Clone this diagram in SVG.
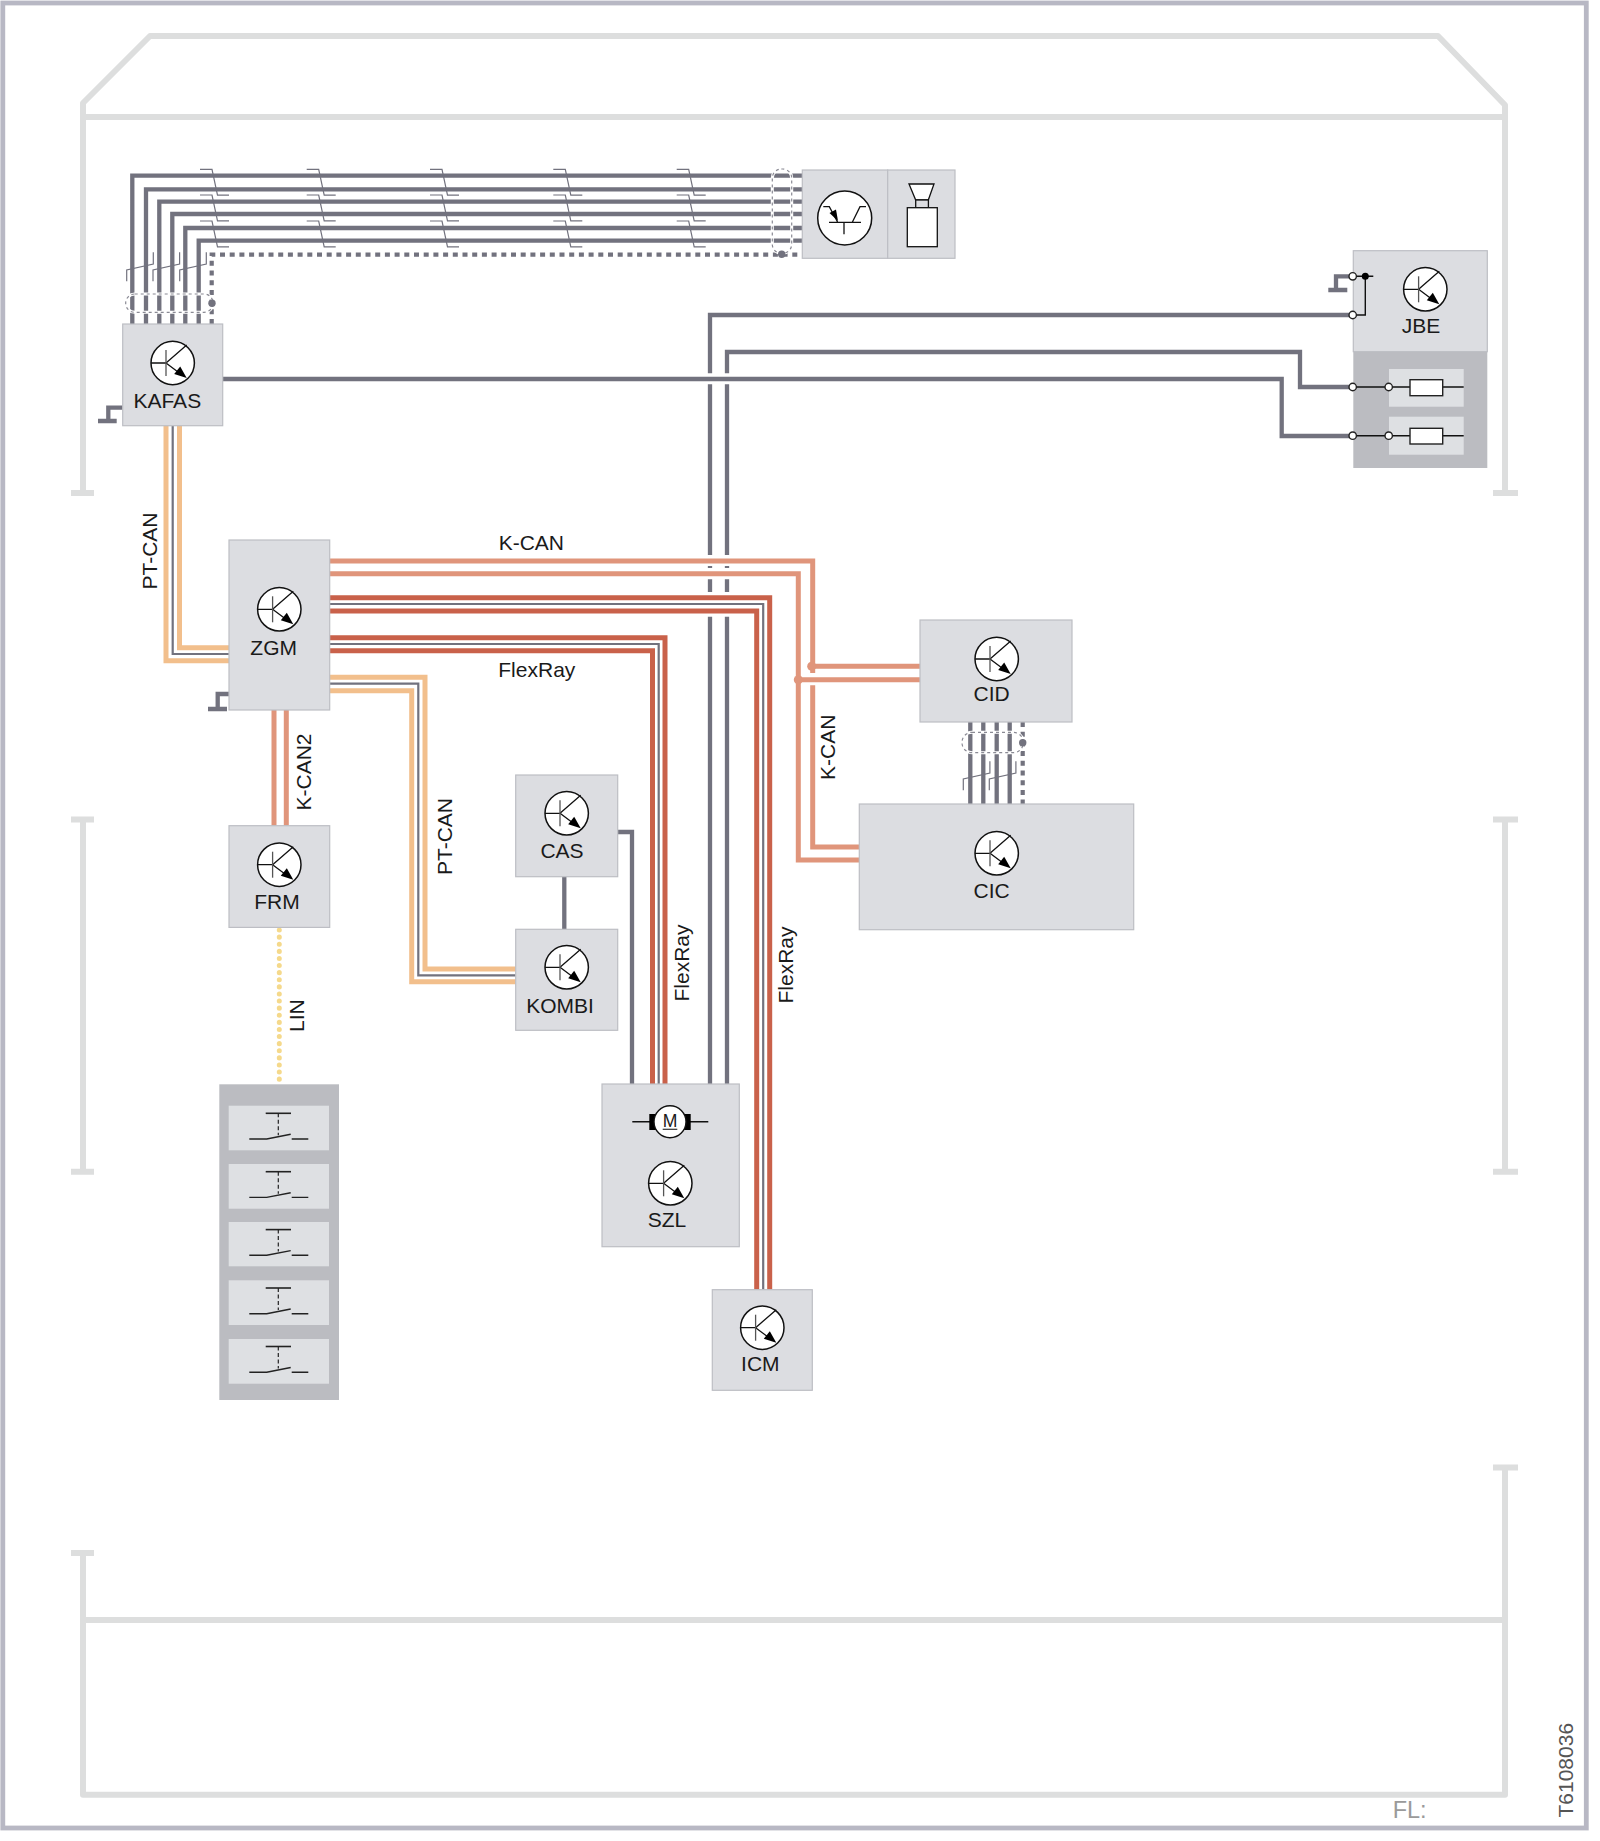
<svg xmlns="http://www.w3.org/2000/svg" width="1600" height="1841" viewBox="0 0 1600 1841">
<style>
text{font-family:"Liberation Sans",Arial,sans-serif;font-size:21px;fill:#1a1a1a}
.box{fill:#dcdde1;stroke:#bdbec4;stroke-width:1.2}
.dark{fill:#bbbcc1;stroke:none}
.sub{fill:#dee0e3;stroke:none}
.frame{fill:none;stroke:#dddede;stroke-width:6;stroke-linejoin:round}
.g{fill:none;stroke:#72727e;stroke-width:4.3}
.gt{fill:none;stroke:#72727e;stroke-width:2.2}
.gd{fill:none;stroke:#72727e;stroke-width:4.2;stroke-dasharray:5 4.7}
.k{fill:none;stroke:#e0957b;stroke-width:5}
.f{fill:none;stroke:#c9614a;stroke-width:5}
.p{fill:none;stroke:#f2bf8c;stroke-width:5}
.shw{fill:none;stroke:#fff;stroke-width:3}
.shd{fill:none;stroke:#8a8a94;stroke-width:1.2;stroke-dasharray:3 3}
.b{fill:none;stroke:#111;stroke-width:1.4}
.o{fill:#fff;stroke:#222;stroke-width:1.4}
</style>
<defs>
<g id="npn">
<circle r="21.7" fill="#fff" stroke="#111" stroke-width="1.5"/>
<path d="M-21.7 0H-6.7M-6.7 0L14 -18M-6.7 0L8 11" fill="none" stroke="#111" stroke-width="1.3"/>
<path d="M-6.7 -13V13" fill="none" stroke="#555" stroke-width="1.3"/>
<path d="M14 15L1.5 11L7.5 3.5Z" fill="#000"/>
</g>
<g id="brh"><path d="M0 0H12L17.5 25.8H29" fill="none" stroke="#72727e" stroke-width="1.2"/></g>
<g id="brv"><path d="M0 0V-11.3L26.6 -17.3V-29" fill="none" stroke="#72727e" stroke-width="1.2"/></g>
<g id="sw">
<path d="M0 0H25.3" fill="none" stroke="#222" stroke-width="1.6"/>
<path d="M12.6 0V22" fill="none" stroke="#222" stroke-width="1.2" stroke-dasharray="4 2.5"/>
<path d="M-16.4 25.7H1L25 21M26 25.7H42.6" fill="none" stroke="#222" stroke-width="1.4"/>
</g>
</defs>
<rect width="1600" height="1841" fill="#fff"/>
<g id="frame">
<rect x="2.8" y="3" width="1583.5" height="1825" fill="none" stroke="#b8b8c4" stroke-width="4.8"/>
<path class="frame" d="M83 493V103L150 36H1438L1505 105V493M71 493H94M1493 493H1518M83 105V117H1505"/>
<path class="frame" d="M83 819.500V1171.700M71 819.500H94M71 1171.700H94M1505 819.500V1171.700M1493 819.500H1518M1493 1171.700H1518"/>
<path class="frame" d="M71 1553H94M83 1553V1794.700H1505V1467.500M1493 1467.500H1518M83 1620H1505"/>
</g>
<g id="connectors">
<path class="g" d="M132.300 324V175.700H802.300M146 324V189.300H802.300M159.300 324V201.700H802.300M172.300 324V214H802.300M185.300 324V228H802.300M198.700 324V240.700H802.300"/>
<path class="gd" d="M211.700 324V254.700H802.300"/>
<path class="g" d="M222.700 379H1281.700V436H1352.700"/>
<path class="g" d="M710 1084V616.700M710 592V579.300M710 568V566M710 555V384.300M710 373.300V315H1352.700"/>
<path class="g" d="M727 1084V616.700M727 592V579.300M727 568V566M727 555V384.300M727 373.300V352H1300V387H1352.700"/>
<path class="g" d="M617.700 832H632V1084M564.300 876.700V929.300"/>
<path class="g" d="M970.300 722V804M983.300 722V804M996.700 722V804M1009.700 722V804"/>
<path class="gd" d="M1022.700 722V804"/>
<g>
<use href="#brh" x="200" y="169.300"/><use href="#brh" x="200" y="195"/><use href="#brh" x="200" y="221"/>
<use href="#brh" x="306.700" y="169.300"/><use href="#brh" x="306.700" y="195"/><use href="#brh" x="306.700" y="221"/>
<use href="#brh" x="430" y="169.300"/><use href="#brh" x="430" y="195"/><use href="#brh" x="430" y="221"/>
<use href="#brh" x="553.300" y="169.300"/><use href="#brh" x="553.300" y="195"/><use href="#brh" x="553.300" y="221"/>
<use href="#brh" x="676.700" y="169.300"/><use href="#brh" x="676.700" y="195"/><use href="#brh" x="676.700" y="221"/>
<use href="#brv" x="126.700" y="281.300"/><use href="#brv" x="153" y="281.300"/><use href="#brv" x="179.700" y="281.300"/>
<use href="#brv" x="963.300" y="790.300"/><use href="#brv" x="989.300" y="790.300"/>
</g>
<rect class="shw" x="125.700" y="294" width="87.300" height="18.300" rx="9"/>
<rect class="shd" x="125.700" y="294" width="87.300" height="18.300" rx="9"/>
<rect class="shw" x="772.300" y="169" width="19.400" height="84.300" rx="9"/>
<rect class="shd" x="772.300" y="169" width="19.400" height="84.300" rx="9"/>
<rect class="shw" x="962" y="732.300" width="61.300" height="20.400" rx="10"/>
<rect class="shd" x="962" y="732.300" width="61.300" height="20.400" rx="10"/>
<g fill="#72727e"><circle cx="212" cy="303.300" r="3.700"/><circle cx="781.700" cy="254.300" r="3.700"/><circle cx="1022.700" cy="742.700" r="3.700"/></g>
<path class="g" d="M122.700 407.700H108.300V421M98 421H116.700"/>
<path class="g" d="M229 694H217.700V709M208 709H227"/>
<path class="p" d="M166 425.700V660.700H229M179.500 425.700V647.700H229"/>
<path class="gt" d="M172.700 425.700V654H229"/>
<path class="p" d="M329.700 677.300H425V969H515.700M329.700 690.700H411.700V981.700H515.700"/>
<path class="gt" d="M329.700 683.700H418.300V975.300H515.700"/>
<path class="k" d="M274 710V825.700M286.300 710V825.700"/>
<path stroke="#f5d98b" stroke-width="5" stroke-linecap="round" stroke-dasharray="0.1 7" fill="none" d="M279.300 930V1084"/>
<path class="k" d="M329.700 561H812.700V673M812.700 685.300V847H859.300M329.700 573.700H798.300V860H859.300M811.700 666.300H920M798.300 679.700H920"/>
<circle cx="811.700" cy="666.300" r="4.500" fill="#e0957b"/>
<circle cx="798.300" cy="679.700" r="4.500" fill="#e0957b"/>
<path class="f" d="M329.700 597.700H769.700V1289.700M329.700 611H756.700V1289.700"/>
<path class="gt" d="M329.700 604H763.200V1289.700"/>
<path class="f" d="M329.700 637.700H665V1084M329.700 650.700H652.500V1084"/>
<path class="gt" d="M329.700 644H658.700V1084"/>
</g>
<g id="node-KAFAS"><rect class="box" x="122.700" y="324" width="100" height="101.700"/><use href="#npn" x="172.700" y="363"/><text x="167.300" y="407.700" text-anchor="middle">KAFAS</text></g>
<g id="node-transistor-speaker">
<rect class="box" x="802.300" y="170" width="85.400" height="88.300"/>
<circle cx="844.700" cy="218" r="27" fill="#fff" stroke="#111" stroke-width="1.5"/>
<path d="M829 222.300H861M844 222.300V234.300M823.300 206.700H829.300L837.700 222.300M852.300 222.300L860 206.700H866" fill="none" stroke="#111" stroke-width="1.3"/>
<path d="M838 221L829.500 213L836 209.500Z" fill="#000"/>
</g>
<g id="node-speaker">
<rect class="box" x="887.700" y="170" width="67.300" height="88.300"/>
<path d="M909 184H934L928.300 200H915.700Z" fill="#fff" stroke="#111" stroke-width="1.3"/>
<rect x="915.700" y="200" width="12.700" height="8" fill="#dcdde1" stroke="#111" stroke-width="1.3"/>
<rect x="907.300" y="207.700" width="30" height="39" fill="#fff" stroke="#111" stroke-width="1.3"/>
</g>
<g id="node-JBE">
<rect class="box" x="1353.300" y="250.700" width="134" height="101"/>
<rect class="dark" x="1353.300" y="351.700" width="134" height="116.300"/>
<rect class="sub" x="1389" y="369" width="74.700" height="37.700"/>
<rect class="sub" x="1389" y="416.700" width="74.700" height="38"/>
<use href="#npn" x="1425.300" y="289.300"/>
<text x="1421" y="332.700" text-anchor="middle">JBE</text>
<path class="g" d="M1352.700 276.300H1336V290M1328.300 290H1347.300"/>
<path class="b" d="M1352.700 276.300H1373.300M1365.300 276.300V315H1352.700M1352.700 387H1463.700M1352.700 435.700H1463.700"/>
<circle cx="1365.300" cy="276.300" r="3.500" fill="#000"/>
<circle class="o" cx="1352.700" cy="276.300" r="3.700"/><circle class="o" cx="1352.700" cy="315" r="3.700"/>
<circle class="o" cx="1352.700" cy="387" r="3.700"/><circle class="o" cx="1388.700" cy="387" r="3.700"/>
<circle class="o" cx="1352.700" cy="435.700" r="3.700"/><circle class="o" cx="1388.700" cy="435.700" r="3.700"/>
<rect class="o" x="1410" y="379.700" width="32.700" height="16"/>
<rect class="o" x="1410" y="428.300" width="32.700" height="15.700"/>
</g>
<g id="node-ZGM"><rect class="box" x="229" y="540" width="100.700" height="170"/><use href="#npn" x="279.300" y="609.300"/><text x="273.700" y="655" text-anchor="middle">ZGM</text></g>
<g id="node-FRM"><rect class="box" x="229" y="825.700" width="100.700" height="101.700"/><use href="#npn" x="279.300" y="864.700"/><text x="277" y="909.400" text-anchor="middle">FRM</text></g>
<g id="node-CAS"><rect class="box" x="515.700" y="775" width="102" height="101.700"/><use href="#npn" x="566.700" y="813.300"/><text x="562" y="858.300" text-anchor="middle">CAS</text></g>
<g id="node-KOMBI"><rect class="box" x="515.700" y="929.300" width="102" height="101"/><use href="#npn" x="566.700" y="967.300"/><text x="560" y="1013.300" text-anchor="middle">KOMBI</text></g>
<g id="node-CID"><rect class="box" x="920" y="620" width="152" height="102"/><use href="#npn" x="996.700" y="659"/><text x="991.700" y="701" text-anchor="middle">CID</text></g>
<g id="node-CIC"><rect class="box" x="859.300" y="804" width="274.400" height="125.700"/><use href="#npn" x="996.700" y="853.300"/><text x="991.700" y="897.700" text-anchor="middle">CIC</text></g>
<g id="node-SZL">
<rect class="box" x="602" y="1084" width="137.300" height="162.700"/>
<path d="M632.300 1121.700H708.300" fill="none" stroke="#111" stroke-width="1.4"/>
<rect x="649.300" y="1114" width="41.400" height="16" fill="#000"/>
<circle cx="670" cy="1121.700" r="16" fill="#fff" stroke="#111" stroke-width="1.4"/>
<text x="670" y="1127.300" text-anchor="middle" style="font-size:17.600px">M</text>
<path d="M662.700 1129.300H677.300" stroke="#333" stroke-width="1.2" fill="none"/>
<use href="#npn" x="670.300" y="1183.300"/>
<text x="667" y="1226.700" text-anchor="middle">SZL</text>
</g>
<g id="node-ICM"><rect class="box" x="712.300" y="1289.700" width="100" height="100.600"/><use href="#npn" x="762.300" y="1327.700"/><text x="760.300" y="1371" text-anchor="middle">ICM</text></g>
<g id="node-switches">
<rect class="dark" x="219.300" y="1084.300" width="119.700" height="315.700"/>
<rect class="sub" x="228.700" y="1105.700" width="100.300" height="44.600"/><use href="#sw" x="265.700" y="1113.300"/>
<rect class="sub" x="228.700" y="1164" width="100.300" height="44.700"/><use href="#sw" x="265.700" y="1171.700"/>
<rect class="sub" x="228.700" y="1222" width="100.300" height="44.300"/><use href="#sw" x="265.700" y="1229.600"/>
<rect class="sub" x="228.700" y="1280.300" width="100.300" height="44.700"/><use href="#sw" x="265.700" y="1288"/>
<rect class="sub" x="228.700" y="1339" width="100.300" height="44.700"/><use href="#sw" x="265.700" y="1346.500"/>
</g>
<g id="labels">
<text x="498.700" y="550">K-CAN</text>
<text x="498.300" y="676.700">FlexRay</text>
<text transform="translate(157 589.500) rotate(-90)">PT-CAN</text>
<text transform="translate(311 810.500) rotate(-90)">K-CAN2</text>
<text transform="translate(451.700 875) rotate(-90)">PT-CAN</text>
<text transform="translate(689.300 1001.500) rotate(-90)">FlexRay</text>
<text transform="translate(793.300 1003.500) rotate(-90)">FlexRay</text>
<text transform="translate(835 780) rotate(-90)">K-CAN</text>
<text transform="translate(303.500 1032) rotate(-90)">LIN</text>
<text x="1392.700" y="1817.700" style="font-size:23.500px;fill:#9a9a9a">FL:</text>
<text transform="translate(1572.700 1817.500) rotate(-90)" style="font-size:21px;fill:#555">T6108036</text>
</g>
</svg>
